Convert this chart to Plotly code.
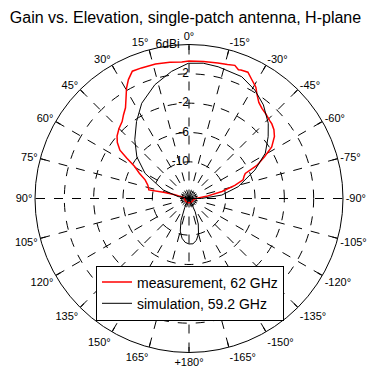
import plotly.graph_objects as go

# ---- data (angles in degrees, 0 = boresight, positive = left) ----
meas_theta = [-180, -150, -120, -95, -88, -83, -78, -74, -71, -68, -66, -64, -61, -58, -54,
              -51, -48, -46, -42, -39, -36, -33, -31, -28, -25, -22, -21, -19, -16, -12,
              -6, 0, 3, 8, 14, 20, 24, 27, 29.5, 32, 35, 38, 41, 45, 49, 52, 55, 57,
              59.5, 63, 67, 72, 78, 76, 75, 80, 95, 120, 150, 180]
meas_db = [-14.4, -14.4, -14.4, -14.3, -13.9, -12.6, -10.4, -8.5, -7.2, -6.9, -6.6, -4.7, -3.2, -1.7, -0.6,
           -0.1, 0.2, 0.3, 0.6, 0.8, 1.2, 2.0, 2.7, 3.3, 4.0, 3.9, 3.8, 4.2, 4.0, 3.9,
           3.8, 3.75, 3.65, 3.75, 3.9, 3.95, 4.0, 3.2, 2.3, 1.2, 0.1, -0.5, -1.1, -1.5, -2.0, -2.6, -3.5, -4.9,
           -6.4, -7.4, -8.5, -9.1, -9.4, -11.6, -13.0, -14.3, -14.4, -14.4, -14.4, -14.4]

sim_theta = [-180, -175, -170, -165, -160, -155, -150, -145, -120, -95, -90, -84, -76.5, -66.6,
             -59.3, -52, -46.5, -38.5, -31.3, -23.4, -12.5, -6, 0.3, 7.8, 16.7, 26.4, 34.3,
             42.7, 51.4, 60.2, 71.7, 80, 88, 120, 145, 150, 155, 160, 165, 170, 175, 180]
sim_db = [-8.8, -8.8, -9.2, -10.0, -11.3, -13.0, -14.8, -15, -15, -15, -13.3, -10.5, -8.1, -5.2,
          -2.9, -1.3, -0.1, 1.3, 2.3, 3.1, 3.4, 3.55, 3.44, 2.5, 1.2, -0.5, -2.3,
          -4.1, -5.9, -8.1, -11.3, -13.5, -15, -15, -15, -15, -13.6, -11.8, -10.4, -9.5, -9.0, -8.8]

ang_ticks = list(range(0, 360, 15))
ang_text = ["0°", "15°", "30°", "45°", "60°", "75°", "90°", "105°", "120°", "135°", "150°", "165°",
            "+180°", "-165°", "-150°", "-135°", "-120°", "-105°", "-90°", "-75°", "-60°", "-45°",
            "-30°", "-15°"]
rad_ticks = [-14, -10, -6, -2, 2, 6]
rad_label_vals = [-10, -6, -2, 2]
rad_label_text = ["-10", "-6", "-2", "2"]
unit_label_val = 6
unit_label_text = "6dBi"
title_text = "Gain vs. Elevation, single-patch antenna, H-plane"

W, H = 371, 370
FONT = "Arial, Liberation Sans, sans-serif"

fig = go.Figure()
fig.add_trace(go.Scatterpolar(r=meas_db, theta=meas_theta, mode="lines",
                              line=dict(color="#ff0000", width=1.5),
                              name="measurement, 62 GHz"))
fig.add_trace(go.Scatterpolar(r=sim_db, theta=sim_theta, mode="lines",
                              line=dict(color="black", width=1),
                              name="simulation, 59.2 GHz"))
# radial tick labels, left of the 0° spoke
fig.add_trace(go.Scatterpolar(r=rad_label_vals, theta=[0] * len(rad_label_vals), mode="text",
                              text=rad_label_text, textposition="middle left",
                              textfont=dict(size=12, family=FONT, color="black"),
                              showlegend=False, hoverinfo="skip", cliponaxis=False))
fig.add_trace(go.Scatterpolar(r=[unit_label_val], theta=[3.5], mode="text",
                              text=[unit_label_text], textposition="middle left",
                              textfont=dict(size=12, family=FONT, color="black"),
                              showlegend=False, hoverinfo="skip", cliponaxis=False))

cx, cy, R = 189, 198.5, 154
fig.update_layout(
    width=W, height=H,
    margin=dict(l=0, r=0, t=0, b=0),
    paper_bgcolor="white",
    font=dict(family=FONT, color="black"),
    title=dict(text=title_text, x=0.5, xanchor="center", y=1 - 17 / H, yanchor="middle",
               font=dict(size=16, family=FONT, color="black")),
    polar=dict(
        domain=dict(x=[(cx - R) / W, (cx + R) / W], y=[1 - (cy + R) / H, 1 - (cy - R) / H]),
        bgcolor="white",
        radialaxis=dict(range=[-15, 6], tickvals=rad_ticks, showticklabels=False, angle=90,
                        showline=False, ticks="", gridcolor="black", griddash="dash",
                        gridwidth=1),
        angularaxis=dict(rotation=90, direction="counterclockwise", tickvals=ang_ticks,
                         ticktext=ang_text, showline=True, linecolor="black", linewidth=1,
                         ticks="inside", ticklen=5, tickcolor="black",
                         gridcolor="black", griddash="dash", gridwidth=1,
                         tickfont=dict(size=11, color="black")),
    ),
    showlegend=True,
    legend=dict(x=190 / W, y=1 - 293 / H, xanchor="center", yanchor="middle",
                bgcolor="white", bordercolor="black", borderwidth=1,
                font=dict(size=14, family=FONT, color="black"),
                itemwidth=30, tracegroupgap=0),
)

fig.write_html("out.html")
